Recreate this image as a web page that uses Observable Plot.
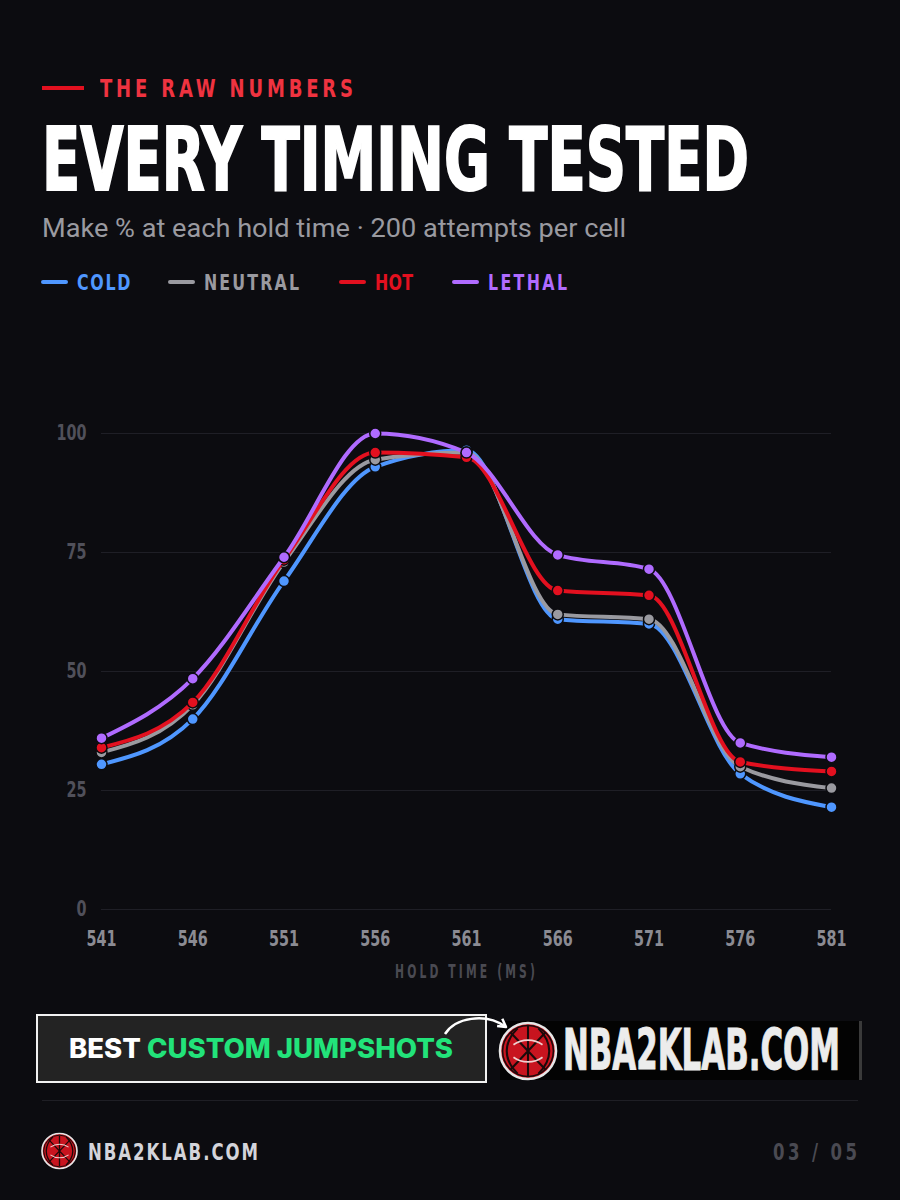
<!DOCTYPE html>
<html><head><meta charset="utf-8">
<script src="https://cdn.jsdelivr.net/npm/d3@7"></script>
<script src="https://cdn.jsdelivr.net/npm/@observablehq/plot@0.6"></script>
<style>
html,body{margin:0;padding:0;background:#0c0c10;}
body{width:900px;height:1200px;position:relative;overflow:hidden;}
.t{position:absolute;white-space:nowrap;line-height:1;}
.box{position:absolute;box-sizing:border-box;}
</style></head><body>
<script>
// ---------- data ----------
const holdTimes = [541, 546, 551, 556, 561, 566, 571, 576, 581];
const seriesNames = ["COLD", "NEUTRAL", "HOT", "LETHAL"];
const seriesColors = ["#4f97ff", "#9a9aa0", "#e3101f", "#b06bff"];
const cold    = [30.5, 40.0, 69.0, 93.0, 96.5, 61.0, 60.0, 28.5, 21.5];
const neutral = [33.0, 43.0, 73.0, 94.5, 96.0, 62.0, 61.0, 30.0, 25.5];
const hot     = [34.0, 43.5, 73.5, 96.0, 95.0, 67.0, 66.0, 31.0, 29.0];
const lethal  = [36.0, 48.5, 74.0, 100.0, 96.0, 74.5, 71.5, 35.0, 32.0];
const yTicks = [0, 25, 50, 75, 100];
const xLabel = "HOLD TIME (MS)";

const COND = '"Liberation Sans Narrow","DejaVu Sans Condensed",sans-serif';

function mk(text, o) {
  const el = document.createElement("div");
  el.className = "t";
  el.textContent = text;
  el.style.fontFamily = o.family || COND;
  el.style.fontWeight = o.weight || 700;
  el.style.fontSize = o.size + "px";
  el.style.color = o.color;
  el.style.left = o.x + "px";
  el.style.top = (o.cy - 0.49 * o.size) + "px";
  if (o.stroke) el.style.webkitTextStroke = o.stroke;
  document.body.appendChild(el);
  return el;
}
function scaleFit(el, w) {
  el.style.transform = "none";
  const n = el.getBoundingClientRect().width;
  el.style.transformOrigin = "0 50%";
  el.style.transform = `scaleX(${w / n})`;
}
// condensed glyphs (factor c) + letter-spacing to reach visual width w
function condFit(el, w, c) {
  el.style.letterSpacing = "0px";
  el.style.transform = "none";
  const n = el.getBoundingClientRect().width;
  const len = el.textContent.length;
  let ls = (w / c - n) / (len - 1);
  if (ls < 0) { scaleFit(el, w); return; }
  el.style.letterSpacing = ls + "px";
  el.style.transformOrigin = "0 50%";
  el.style.transform = `scaleX(${c})`;
}
function box(x, y, w, h, css) {
  const el = document.createElement("div");
  el.className = "box";
  Object.assign(el.style, {left: x + "px", top: y + "px", width: w + "px", height: h + "px"}, css);
  document.body.appendChild(el);
  return el;
}

// ---------- header ----------
box(42, 86, 42, 4, {background: "#e3101f"});
condFit(mk("THE RAW NUMBERS", {x: 100, cy: 88, size: 25, color: "#ef3340"}), 253, 0.8);
scaleFit(mk("EVERY TIMING TESTED", {x: 42, cy: 159.5, size: 88, color: "#ffffff", stroke: "2px #ffffff"}), 707);
scaleFit(mk("Make % at each hold time · 200 attempts per cell", {x: 42, cy: 228, size: 25, family: "Roboto,sans-serif", weight: 400, color: "#9a9aa0"}), 584);

// legend
const legX = [41, 168, 339, 452];
const legW = [53.5, 95, 38, 79];
seriesNames.forEach((s, i) => {
  box(legX[i], 280, 27, 4, {background: seriesColors[i], borderRadius: "2px"});
  condFit(mk(s, {x: legX[i] + 36, cy: 283, size: 22, color: seriesColors[i]}), legW[i], 0.8);
});

// ---------- chart ----------
const seriesValues = [cold, neutral, hot, lethal];
const rows = [];
seriesNames.forEach((s, i) => holdTimes.forEach((t, j) => rows.push({series: s, t, v: seriesValues[i][j]})));

const marks = [
  Plot.gridY(yTicks, {stroke: "#1f1f26", strokeOpacity: 1, strokeWidth: 1}),
  Plot.axisY(yTicks, {tickSize: 0, tickPadding: 15, color: "#50505a", fontSize: 21, label: null}),
  Plot.axisX(holdTimes, {tickSize: 0, tickPadding: 22, color: "#8b8b93", fontSize: 21, label: null, tickFormat: d => String(d)}),
  Plot.text([xLabel], {frameAnchor: "bottom", dy: 68, fill: "#4a4a52", fontSize: 19, fontWeight: 700})
];
seriesNames.forEach((s) => {
  const d = rows.filter(r => r.series === s);
  marks.push(Plot.line(d, {x: "t", y: "v", stroke: "series", strokeWidth: 4, curve: "monotone-x"}));
  marks.push(Plot.dot(d, {x: "t", y: "v", fill: "series", stroke: "#0c0c10", strokeWidth: 1.5, r: 5.5}));
});

const chart = Plot.plot({
  width: 900, height: 670,
  marginLeft: 101, marginRight: 69, marginTop: 113, marginBottom: 81,
  x: {domain: [541, 581]},
  y: {domain: [0, 100]},
  color: {domain: seriesNames, range: seriesColors},
  style: {background: "transparent", fontFamily: COND, fontWeight: 700, color: "#8b8b93"},
  marks
});
const holder = document.createElement("div");
holder.style.cssText = "position:absolute;left:0;top:320px;width:900px;";
holder.appendChild(chart);
document.body.appendChild(holder);
// condense tick label glyphs to match the narrow display face
d3.select(chart).selectAll('g[aria-label="x-axis tick label"] text, g[aria-label="y-axis tick label"] text')
  .each(function() {
    const L = this.getComputedTextLength();
    this.setAttribute("textLength", L * 0.76);
    this.setAttribute("lengthAdjust", "spacingAndGlyphs");
  });
d3.select(chart).selectAll("text").filter(function(){ return this.textContent === xLabel; })
  .style("letter-spacing", "5px")
  .attr("textLength", 143).attr("lengthAdjust", "spacingAndGlyphs");

// ---------- banner ----------
box(36, 1014, 451, 69, {background: "#232323", border: "2.5px solid #f2f2f2"});
box(500, 1021, 362, 59, {background: "#030303", borderRight: "3px solid #3a3a3a"});
const b = mk("", {x: 69, cy: 1048, size: 27, family: "Inter,sans-serif", weight: 800, color: "#ffffff"});
b.innerHTML = 'BEST <span style="color:#22e37a">CUSTOM JUMPSHOTS</span>';
scaleFit(b, 384);
scaleFit(mk("NBA2KLAB.COM", {x: 563, cy: 1049.5, size: 57, color: "#ececec", stroke: "1px #ececec"}), 277);

// ---------- footer ----------
box(42, 1100, 816, 1, {background: "#1f1f25"});
condFit(mk("NBA2KLAB.COM", {x: 88, cy: 1152, size: 23, color: "#d4d4da"}), 170, 0.8);
condFit(mk("03 / 05", {x: 773, cy: 1152, size: 23, color: "#4a4a52"}), 84, 0.8);

// ---------- decorative overlay (logos + arrow) ----------
function logo(cx, cy, r) {
  const s = r / 27;
  return `<g transform="translate(${cx},${cy}) scale(${s})">
    <circle r="27" fill="#c8141f" stroke="#e6e6e6" stroke-width="2.5"/>
    <circle r="24.5" fill="none" stroke="#1a0a0a" stroke-width="1.5"/>
    <path d="M-17,-18 L17,18 M17,-18 L-17,18 M0,-24 L0,24" stroke="#1a0a0a" stroke-width="2"/>
    <path d="M-10,-22 C-24,-8 -24,8 -10,22 M10,-22 C24,-8 24,8 10,22" stroke="#1a0a0a" stroke-width="2" fill="none"/>
    <path d="M-14,-6 C-6,-12 6,-12 14,-6 M-14,6 C-6,12 6,12 14,6" stroke="#f0d0d0" stroke-width="1.6" fill="none"/>
  </g>`;
}
const ov = document.createElement("div");
ov.style.cssText = "position:absolute;left:0;top:0;width:900px;height:1200px;pointer-events:none;";
ov.innerHTML = `<svg width="900" height="1200" viewBox="0 0 900 1200">
  <path d="M445,1034 C455,1018 485,1012 506,1027" stroke="#ffffff" stroke-width="2.5" fill="none"/>
  <path d="M502.3,1018.8 L506,1027 L497.1,1026.1" stroke="#ffffff" stroke-width="2.5" fill="none" stroke-linejoin="round"/>
  ${logo(528, 1051, 28)}
  ${logo(59.5, 1151, 17.5)}
</svg>`;
document.body.appendChild(ov);
</script>
</body></html>
